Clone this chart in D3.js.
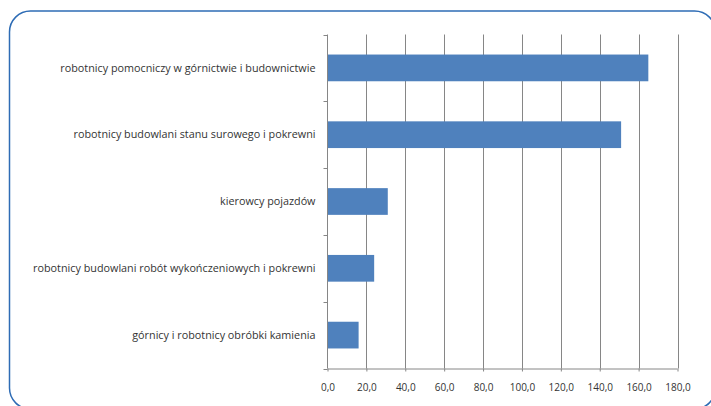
<!DOCTYPE html>
<html>
<head>
<meta charset="utf-8">
<script src="https://cdn.jsdelivr.net/npm/d3@7"></script>
<style>
  html, body { margin: 0; padding: 0; background: #fff; }
  svg { display: block; }
</style>
</head>
<body>
<svg id="chart" width="711" height="406"></svg>
<script>
const categories = [
    'robotnicy pomocniczy w górnictwie i budownictwie',
    'robotnicy budowlani stanu surowego i pokrewni',
    'kierowcy pojazdów',
    'robotnicy budowlani robót wykończeniowych i pokrewni',
    'górnicy i robotnicy obróbki kamienia'
];
const values = [165, 151, 31, 24, 16];
const tickValues = [0, 20, 40, 60, 80, 100, 120, 140, 160, 180];

const WIDTH = 711;
const HEIGHT = 406;
const PADDING_LEFT = 327.5;
const PADDING_RIGHT = 33.5;
const PADDING_TOP = 34.5;
const PADDING_BOTTOM = 37.5;
const GRAPH_WIDTH = WIDTH - PADDING_LEFT - PADDING_RIGHT;
const GRAPH_HEIGHT = HEIGHT - PADDING_TOP - PADDING_BOTTOM;

const COLOR_BAR = '#4f81bd';
const COLOR_GRID = '#868686';
const COLOR_TEXT = '#333333';
const FONT = '"Open Sans", sans-serif';

const root = d3.select('#chart');

// ramka
root.append('rect')
    .attr('x', 9.5)
    .attr('y', 11)
    .attr('width', 706)
    .attr('height', 398)
    .attr('rx', 21)
    .attr('ry', 21)
    .attr('fill', 'none')
    .attr('stroke', '#2e6cb5')
    .attr('stroke-width', 1.5);

const g = root.append('g');

const x = d3.scaleLinear().domain([0, 180]).range([PADDING_LEFT, PADDING_LEFT + GRAPH_WIDTH]);
const y = d3.scaleBand().domain(categories).range([PADDING_TOP, PADDING_TOP + GRAPH_HEIGHT]).paddingInner(0.6).paddingOuter(0.3);

// siatka pionowa
g.selectAll('.grid')
    .data(tickValues.slice(1))
    .enter()
    .append('line')
    .attr('x1', d => Math.round(x(d)) + 0.5)
    .attr('x2', d => Math.round(x(d)) + 0.5)
    .attr('y1', PADDING_TOP)
    .attr('y2', PADDING_TOP + GRAPH_HEIGHT)
    .attr('stroke', COLOR_GRID)
    .attr('stroke-width', 1);

// słupki
g.selectAll('.bar')
    .data(values)
    .enter()
    .append('rect')
    .attr('x', x(0))
    .attr('y', (d, i) => y(categories[i]))
    .attr('width', d => x(d) - x(0))
    .attr('height', y.bandwidth())
    .attr('fill', COLOR_BAR);

// oś pozioma
const xAxis = d3.axisBottom(x)
    .tickValues(tickValues)
    .tickSize(3)
    .tickPadding(12)
    .tickFormat(d => d3.format('.1f')(d).replace('.', ','));

const xg = g.append('g')
    .attr('transform', `translate(0,${PADDING_TOP + GRAPH_HEIGHT})`)
    .call(xAxis);
xg.select('.domain').attr('stroke', COLOR_GRID).attr('d', `M${PADDING_LEFT},0.5H${PADDING_LEFT + GRAPH_WIDTH}`);
xg.selectAll('.tick line').attr('stroke', COLOR_GRID);
xg.selectAll('.tick text')
    .attr('fill', COLOR_TEXT)
    .attr('font-family', FONT)
    .attr('font-size', 10);

// oś pionowa
const yStep = GRAPH_HEIGHT / categories.length;
const yg = g.append('g');
yg.append('line')
    .attr('x1', PADDING_LEFT)
    .attr('x2', PADDING_LEFT)
    .attr('y1', PADDING_TOP)
    .attr('y2', PADDING_TOP + GRAPH_HEIGHT)
    .attr('stroke', COLOR_GRID);
yg.selectAll('.ytick')
    .data(d3.range(categories.length + 1))
    .enter()
    .append('line')
    .attr('x1', PADDING_LEFT - 4)
    .attr('x2', PADDING_LEFT)
    .attr('y1', i => Math.round(PADDING_TOP + i * yStep) + 0.5)
    .attr('y2', i => Math.round(PADDING_TOP + i * yStep) + 0.5)
    .attr('stroke', COLOR_GRID);

yg.selectAll('.ylabel')
    .data(categories)
    .enter()
    .append('text')
    .text(d => d)
    .attr('x', PADDING_LEFT - 12)
    .attr('y', d => y(d) + y.bandwidth() / 2)
    .attr('dy', '0.35em')
    .attr('text-anchor', 'end')
    .attr('fill', COLOR_TEXT)
    .attr('font-family', FONT)
    .attr('font-size', 10.8);
</script>
</body>
</html>
